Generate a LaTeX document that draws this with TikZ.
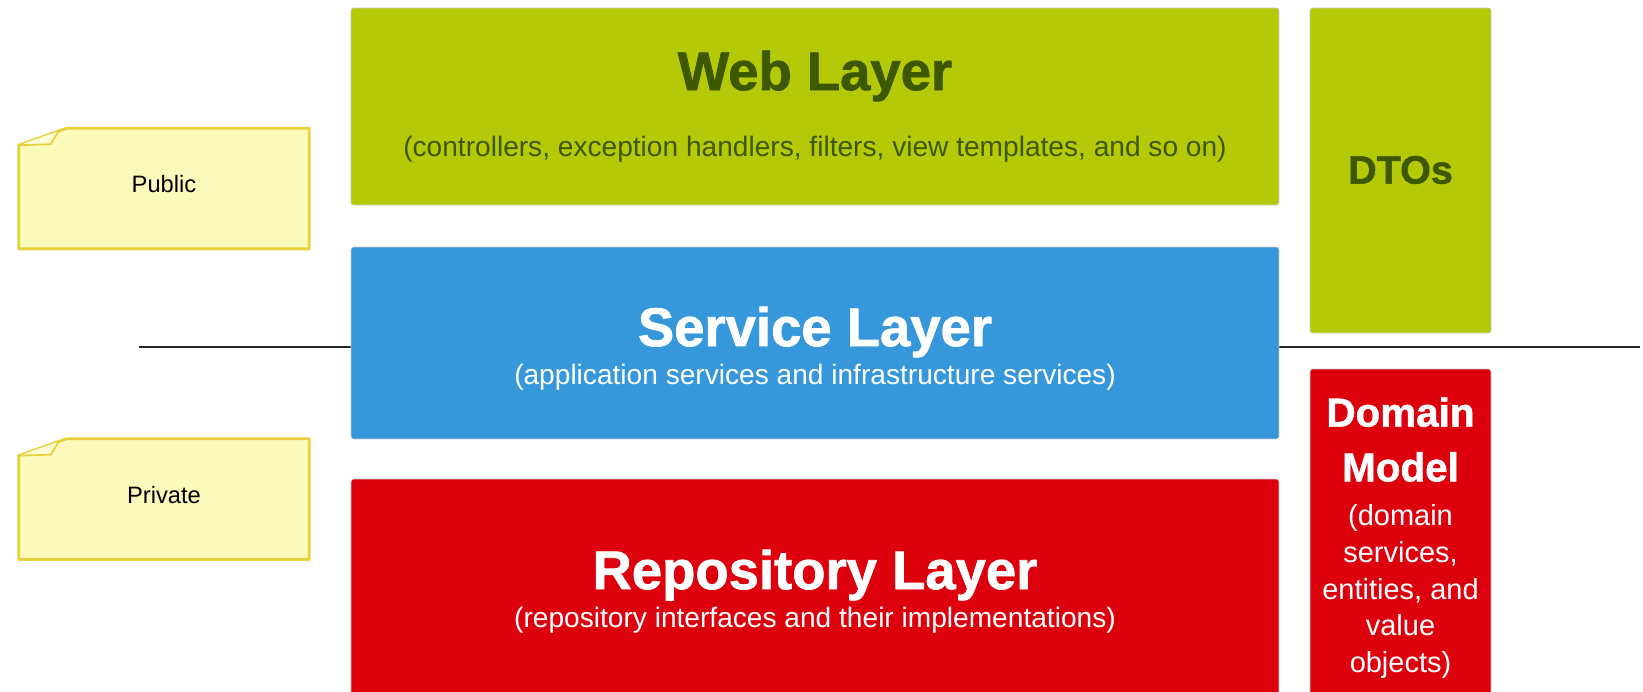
\documentclass[tikz,border=0pt]{standalone}
\usepackage{fontspec}
\setmainfont{Liberation Sans}
\newfontfamily\heavyfont[BoldFeatures={FakeBold=1.3}]{Liberation Sans}
\usepackage{tikz}
\usetikzlibrary{positioning}
\usetikzlibrary{backgrounds}

\definecolor{webgreen}{RGB}{180,201,7}
\definecolor{webtext}{RGB}{62,88,0}
\definecolor{serviceblue}{RGB}{54,151,219}
\definecolor{repored}{RGB}{221,0,13}
\definecolor{notefill}{RGB}{250,250,187}
\definecolor{noteedge}{RGB}{230,209,58}

\tikzset{
  layer/.style={rectangle, rounded corners=1.5pt, draw=black!22, line width=0.4pt, inner sep=0pt},
  title/.style={font=\fontsize{31}{34}\selectfont\heavyfont\bfseries},
  sub/.style={font=\fontsize{16}{19}\selectfont},
  notebox/.style={minimum width=5.8cm, minimum height=2.4cm, inner sep=0pt, text height=10pt, text depth=5pt, font=\fontsize{13.5}{16}\selectfont}
}

\begin{document}
\begin{tikzpicture}[x=0.02cm, y=-0.02cm]
        \useasboundingbox (0,0) rectangle (1643,691);
        \clip (0,0) rectangle (1643,691);

        % separator between public and private
        \coordinate (sepL) at (139,347);
        \coordinate (sepR) at (1640,347);
        \draw[line width=0.8pt, black!85] (sepL) -- (sepR);

        % layers
        \node[layer, fill=webgreen, minimum width=18.56cm, minimum height=3.94cm] (web) at (815,106.5) {};
        \node[layer, fill=serviceblue, minimum width=18.56cm, minimum height=3.84cm] (service) at (815,343) {};
        \node[layer, fill=repored, minimum width=18.56cm, minimum height=4.42cm] (repo) at (815,589.5) {};
        \node[layer, fill=webgreen, minimum width=3.62cm, minimum height=6.5cm] (dtos) at (1400.5,170.5) {};
        \node[layer, fill=repored, minimum width=3.62cm, minimum height=6.62cm] (domain) at (1400.5,534.5) {};

        \node[title, text=webtext] (webT) at (815,76) {Web Layer};
        \node[sub, text=webtext] (webS) at (815,149) {(controllers, exception handlers, filters, view templates, and so on)};
        \node[title, text=white] (serviceT) at (815,332) {Service Layer};
        \node[sub, text=white] (serviceS) at (815,377) {(application services and infrastructure services)};
        \node[title, text=white] (repoT) at (815,575) {Repository Layer};
        \node[sub, text=white] (repoS) at (815,620) {(repository interfaces and their implementations)};

        \node[text=webtext, font=\fontsize{22.5}{26}\selectfont\heavyfont\bfseries] (dtosT) at (1400.5,170) {DTOs};
        \node[text=white, align=center, font=\fontsize{23}{31.2}\selectfont\heavyfont\bfseries] (domainT) at (1400.5,439.5) {Domain\\Model};
        \node[text=white, align=center, font=\fontsize{16.5}{20.8}\selectfont] (domainS) at (1400.5,591.5) {(domain\\services,\\entities, and\\value\\objects)};

        % notes
        \node[notebox] (public) at (164,188.5) {Public};
        \node[notebox] (private) at (164,499) {Private};
        \begin{scope}[on background layer]
        \foreach \n in {public, private} {
            \draw[noteedge, line width=1.6pt, fill=notefill, line join=round]
                ([yshift=-0.34cm]\n.north west) -- ([xshift=0.96cm]\n.north west) -- (\n.north east)
                -- (\n.south east) -- (\n.south west) -- cycle;
            \draw[noteedge, line width=1pt, fill=notefill!60!white, line join=round]
                ([yshift=-0.34cm]\n.north west) -- ([xshift=0.64cm,yshift=-0.32cm]\n.north west)
                -- ([xshift=0.8cm,yshift=-0.06cm]\n.north west);
        }
        \end{scope}
\end{tikzpicture}
\end{document}
